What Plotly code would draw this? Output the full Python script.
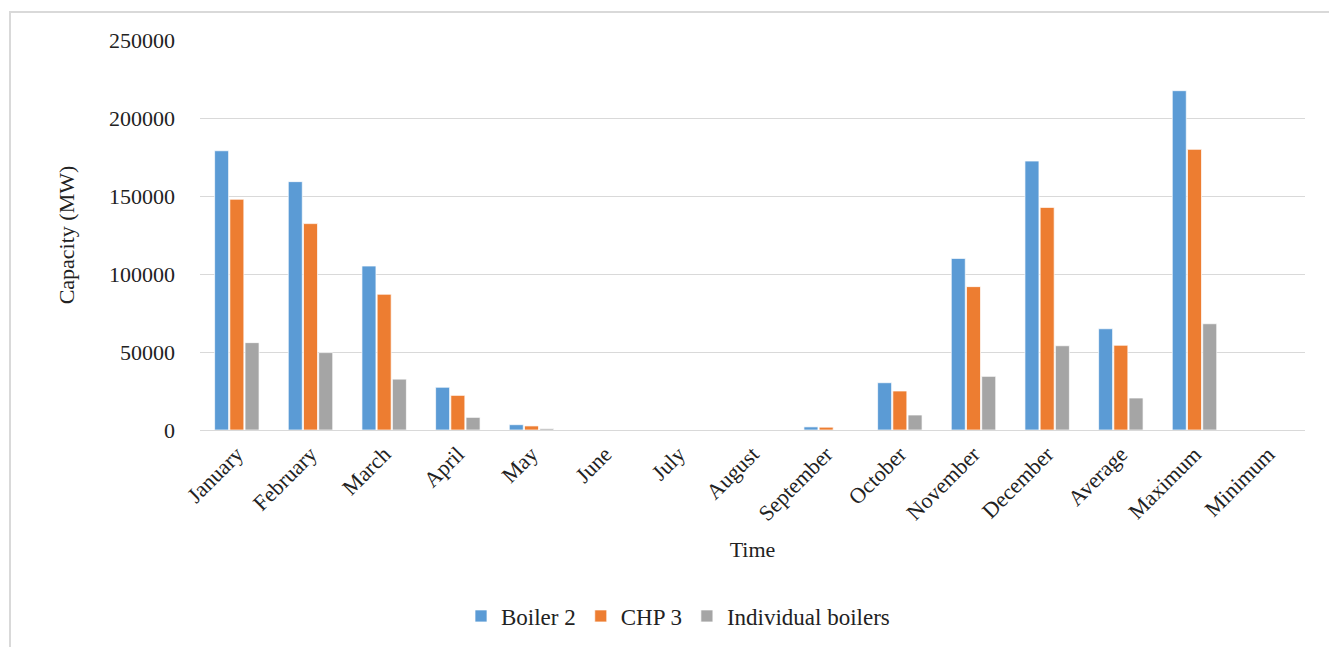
import plotly.graph_objects as go

# Categories and monthly/summary capacities (MW)
categories = ["January", "February", "March", "April", "May", "June", "July",
              "August", "September", "October", "November", "December",
              "Average", "Maximum", "Minimum"]
boiler_2 = [179000, 159200, 105100, 27400, 3400, 0, 0, 0, 2000, 30300,
            110000, 172400, 64900, 217500, 0]
chp_3 = [147900, 132300, 87000, 22200, 2600, 0, 0, 0, 1800, 25000,
         91900, 142700, 54300, 179900, 0]
individual_boilers = [56000, 49600, 32600, 8100, 850, 0, 0, 0, 0, 9600,
                      34400, 54000, 20500, 68100, 0]
y_ticks = [0, 50000, 100000, 150000, 200000, 250000]

W, H = 1329, 647
L, R, T, B = 200, 24, 40, 217
pw, ph = W - L - R, H - T - B

def px_x(p):
    return (p - L) / pw

def px_y(p):
    return (H - B - p) / ph

serif = "Liberation Serif, Times New Roman, serif"
fs = 22
line = dict(color="rgba(255,255,255,0.7)", width=1)

fig = go.Figure()
fig.add_bar(x=categories, y=boiler_2, name="Boiler 2",
            marker=dict(color="#5B9BD5", line=line))
fig.add_bar(x=categories, y=chp_3, name="CHP 3",
            marker=dict(color="#ED7D31", line=line))
fig.add_bar(x=categories, y=individual_boilers, name="Individual boilers",
            marker=dict(color="#A5A5A5", line=line))

fig.update_layout(
    width=W, height=H,
    margin=dict(l=L, r=R, t=T, b=B, autoexpand=False),
    paper_bgcolor="white", plot_bgcolor="white",
    barmode="group", bargap=0.38, bargroupgap=0.08,
    font=dict(family=serif, size=fs, color="#222"),
    showlegend=True,
    legend=dict(orientation="h", x=px_x(678), xanchor="center",
                y=px_y(616), yanchor="middle",
                font=dict(family=serif, size=23, color="#222"),
                itemwidth=30, traceorder="normal"),
    xaxis=dict(tickangle=-45, tickfont=dict(size=fs),
               ticklabelstandoff=6, showgrid=False, showline=False,
               title=dict(text="Time", font=dict(size=fs), standoff=16)),
    yaxis=dict(range=[0, 250000], tickvals=y_ticks,
               tickformat="d", tickfont=dict(size=fs),
               showgrid=True, gridcolor="#d9d9d9", gridwidth=1,
               zeroline=True, zerolinecolor="#d9d9d9", zerolinewidth=1,
               ticklabelstandoff=24,
               title=dict(text="Capacity (MW)", font=dict(size=fs), standoff=28)),
    shapes=[dict(type="rect", xref="paper", yref="paper",
                 x0=px_x(10), x1=px_x(W + 20), y0=px_y(H + 20), y1=px_y(12),
                 line=dict(color="#d9d9d9", width=2), fillcolor="rgba(0,0,0,0)",
                 layer="below")],
)

fig.write_html("out.html")
